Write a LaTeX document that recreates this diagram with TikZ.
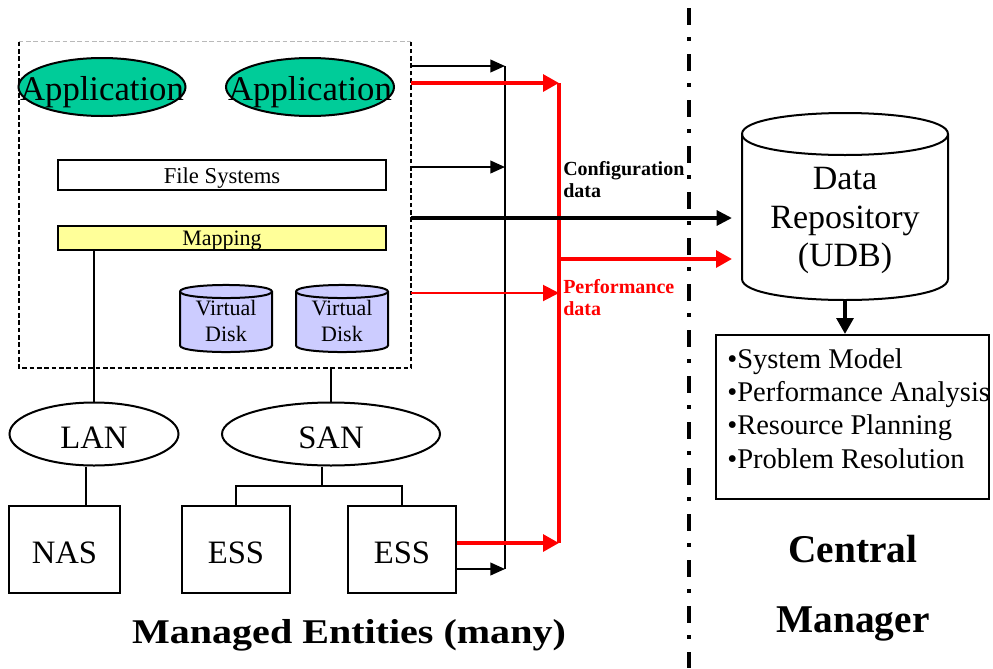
\documentclass[tikz,border=0pt]{standalone}
\usepackage{fontspec}
\setmainfont{Liberation Serif}
\usetikzlibrary{arrows.meta,shapes.geometric}

\definecolor{appgreen}{RGB}{0,204,153}
\definecolor{diskfill}{RGB}{204,204,255}
\definecolor{mapfill}{RGB}{255,255,153}
\definecolor{perfred}{RGB}{255,0,0}

\newcommand\fs[2]{\fontsize{#1}{#2}\selectfont}
% drum outline: left x, right x, top-cap centre y, bottom-cap centre y, 4/3 of cap radius, fill
\newcommand\drumpath[6]{%
  \filldraw[fill=#6, line width=1.5pt]
    (#1,#3) -- (#1,#4) .. controls (#1,#4+#5) and (#2,#4+#5) .. (#2,#4)
    -- (#2,#3) .. controls (#2,#3-#5) and (#1,#3-#5) .. (#1,#3) -- cycle;
  \draw[line width=1.5pt] (#1,#3) .. controls (#1,#3+#5) and (#2,#3+#5) .. (#2,#3);}

\begin{document}
\begin{tikzpicture}[x=0.75pt,y=-0.75pt,
  every node/.style={inner sep=0pt},
  dims/.style 2 args={minimum width=#1*0.75pt, minimum height=#2*0.75pt},
  box/.style={draw, rectangle, line width=1.5pt},
  appell/.style={draw, ellipse, fill=appgreen, line width=1.5pt},
  netell/.style={draw, ellipse, line width=1.5pt},
  bigtext/.style={anchor=base, font=\fs{24.5}{28}},
  smalltext/.style={anchor=base, font=\fs{17}{20}},
  hostdash/.style={line width=1.4pt, dash pattern=on 3.5pt off 2pt},
  conn/.style={line width=1.5pt},
  cfgarrow/.style={line width=1.5pt, -{Triangle[length=11pt,width=9.5pt]}},
  cfgthick/.style={line width=3pt, -{Triangle[length=11.5pt,width=11pt]}},
  perfthick/.style={perfred, line width=3pt, -{Triangle[length=12pt,width=12.5pt]}},
  perfthin/.style={perfred, line width=1.5pt, -{Triangle[length=12pt,width=12pt]}},
  divider/.style={line width=3pt, dash pattern=on 12.75pt off 9pt on 3pt off 9.75pt}
]
\useasboundingbox (0,0) rectangle (993,668);

% ---------- managed host ----------
\node[dims={392}{326}] (host) at (215,205) {};
\draw[hostdash] (host.north west) -- (host.south west) -- (host.south east) -- (host.north east);
\draw[line width=0.8pt, gray!55, dash pattern=on 3.5pt off 2pt] (host.north west) -- (host.north east);

\node[appell, dims={167}{58}] (app1) at (102,87) {};
\node[anchor=base, font=\fs{26}{30}] (app1t) at ([yshift=-9.75pt]app1.center) {Application};
\node[appell, dims={168}{58}] (app2) at (310,87) {};
\node[anchor=base, font=\fs{26}{30}] (app2t) at ([yshift=-9.75pt]app2.center) {Application};

\node[box, fill=white, dims={328}{30}] (fs) at (222,175) {};
\node[smalltext] (fst) at (222,183) {File Systems};
\node[box, fill=mapfill, dims={328}{24}] (map) at (222,238) {};
\node[smalltext, font=\fs{16.5}{20}] (mapt) at (222,245) {Mapping};

% virtual disks
\drumpath{180}{272}{291.5}{345.5}{8.7}{diskfill}
\drumpath{296}{388}{291.5}{345.5}{8.7}{diskfill}
\node[anchor=north, align=center, font=\fs{16.5}{19.5}] (disk1) at (226,300) {Virtual\\Disk};
\node[anchor=north, align=center, font=\fs{16.5}{19.5}] (disk2) at (342,300) {Virtual\\Disk};

% ---------- networks and storage ----------
\node[netell, dims={169}{63}] (lan) at (94,434) {};
\node[bigtext] (lant) at (94,448) {LAN};
\node[netell, dims={218}{63}] (san) at (331,434) {};
\node[bigtext] (sant) at (331,448) {SAN};
\node[box, dims={111}{87}] (nas) at (64.5,549.5) {};
\node[bigtext] (nast) at (64.5,563) {NAS};
\node[box, dims={108}{87}] (ess1) at (236,549.5) {};
\node[bigtext] (ess1t) at (236,563) {ESS};
\node[box, dims={108}{87}] (ess2) at (402,549.5) {};
\node[bigtext] (ess2t) at (402,563) {ESS};

\draw[conn] (map.south -| lan.north) -- (lan.north);
\draw[conn] ([xshift=-6pt]lan.south) coordinate (lanfoot) -- (lanfoot |- nas.north);
\draw[conn] (host.south -| san.north) -- (san.north);
\draw[conn] ([xshift=-6.75pt]san.south) coordinate (sanfoot) -- ++(0,19) coordinate (sanjoin);
\draw[conn] (ess1.north) |- (sanjoin) -| (ess2.north);

% ---------- collection buses ----------
\coordinate (kTop) at (505,66);
\coordinate (kMid) at (505,167);
\coordinate (kBot) at (505,569);
\coordinate (rTop) at (559,83);
\coordinate (rMid) at (559,293);
\coordinate (rBot) at (559,543);
\coordinate (cfgIn) at (732,218);
\coordinate (perfIn) at (732,259);

\draw[conn] (kTop) -- (kBot);
\draw[perfred, line width=3pt] (rTop) -- (rBot);

\draw[cfgarrow] (host.east |- kTop) -- (kTop);
\draw[perfthick] (host.east |- rTop) -- (rTop);
\draw[cfgarrow] (host.east |- kMid) -- (kMid);
\draw[perfthin] (host.east |- rMid) -- (rMid);
\draw[perfthick] (ess2.east |- rBot) -- (rBot);
\draw[cfgarrow] (ess2.east |- kBot) -- (kBot);
\draw[perfthick] (rTop |- perfIn) -- (perfIn);
\draw[cfgthick] (host.east |- cfgIn) -- (cfgIn);

\node[anchor=north west, align=left, font=\bfseries\fs{15}{16.5}] (cfglabel) at (563,161) {Configuration\\data};
\node[anchor=north west, align=left, font=\bfseries\fs{15}{16.5}, text=perfred] (perflabel) at (563,279) {Performance\\data};

% ---------- divider ----------
\coordinate (divTop) at (689,8);
\coordinate (divBot) at (689,668);
\draw[divider] (divTop) -- (divBot);

% ---------- central manager ----------
\node[dims={206}{187}] (udb) at (845,206.5) {};
\drumpath{742}{948}{134}{279}{28}{white}
\node[anchor=north, align=center, font=\fs{25.5}{29}] (udbtext) at (845,167) {Data\\Repository\\(UDB)};

\node[box, dims={273}{164}] (tools) at (852.5,417) {};
\node[anchor=north west, align=left, font=\fs{21.4}{25}] (toollist) at (727,348)
  {•System Model\\•Performance Analysis\\•Resource Planning\\•Problem Resolution};
\draw[line width=3pt, -{Triangle[length=12pt,width=12.5pt]}] (udb.south) -- (udb.south |- tools.north);

\node[anchor=north, align=center, font=\bfseries\fs{29.5}{52.5}] (central) at (853,535) {Central\\Manager};
\node[anchor=base, font=\bfseries\fs{26}{30}] (managed) at (349,643) {\scalebox{1.155}[1]{Managed Entities (many)}};
\end{tikzpicture}
\end{document}
